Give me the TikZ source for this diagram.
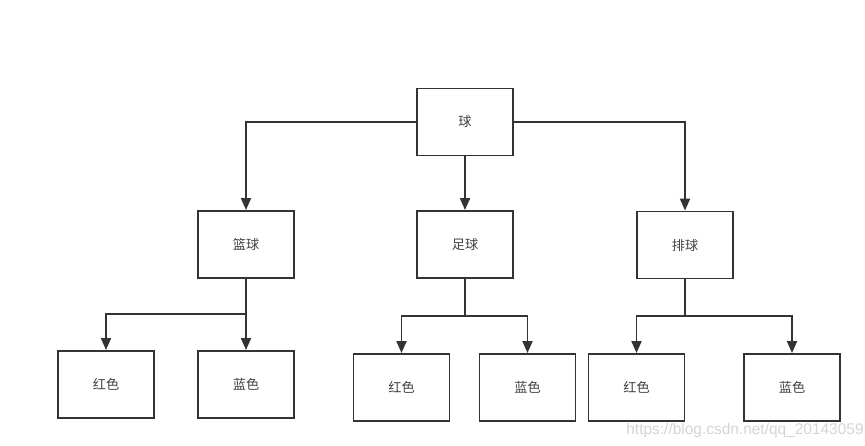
\documentclass[tikz,border=0pt]{standalone}
\usepackage{fontspec}
\usepackage{tikz}
\usetikzlibrary{arrows.meta,positioning}
\newfontfamily\cjk{Noto Sans CJK SC}
\newfontfamily\wmfont{Liberation Sans}
\definecolor{lineGray}{HTML}{333333}
\definecolor{markGray}{HTML}{D4D4D4}

\begin{document}
\begin{tikzpicture}[
  x=0.02cm, y=-0.02cm,
  font=\cjk\fontsize{7.5}{8}\selectfont,
  box/.style={draw=lineGray, line width=1.1pt, minimum width=1.92cm, minimum height=1.34cm, inner sep=0pt, text=black!75},
  arr/.style={-{Triangle[length=2.4mm, width=2mm]}, line width=1.1pt, color=lineGray}
]
\useasboundingbox (0,0) rectangle (865,446);
% top
\node[box] (qiu) at (465,122) {球};
% middle row
\node[box] (lanqiu) at (246,244.5) {篮球};
\node[box] (zuqiu) at (465,244.5) {足球};
\node[box] (paiqiu) at (685,245) {排球};
% bottom row
\node[box] (hong1) at (106,384.5) {红色};
\node[box] (lan1) at (246,384.5) {蓝色};
\node[box] (hong2) at (401.5,387.5) {红色};
\node[box] (lan2) at (527.5,387.5) {蓝色};
\node[box] (hong3) at (636.5,387.5) {红色};
\node[box] (lan3) at (792,387.5) {蓝色};
% branch points
\coordinate (b1) at (246,314);
\coordinate (b2) at (465,316);
\coordinate (b3) at (685,316);
% top to middle
\draw[arr] (qiu.west) -| (lanqiu.north);
\draw[arr] (qiu.south) -- (zuqiu.north);
\draw[arr] (qiu.east) -| (paiqiu.north);
% middle to bottom
\draw[arr] (lanqiu.south) -- (b1) -| (hong1.north);
\draw[arr] (b1) -- (lan1.north);
\draw[line width=1.1pt, lineGray] (zuqiu.south) -- (b2);
\draw[arr] (b2) -| (hong2.north);
\draw[arr] (b2) -| (lan2.north);
\draw[line width=1.1pt, lineGray] (paiqiu.south) -- (b3);
\draw[arr] (b3) -| (hong3.north);
\draw[arr] (b3) -| (lan3.north);
% watermark
\node[font=\wmfont\fontsize{8.8}{9}\selectfont, text=markGray, anchor=east, inner sep=0pt] (mark) at (864,430) {https://blog.csdn.net/qq\_20143059};
\end{tikzpicture}
\end{document}
